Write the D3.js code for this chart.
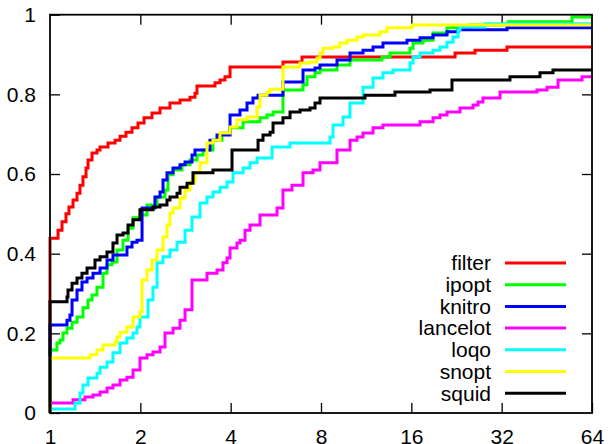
<!DOCTYPE html>
<html>
<head>
<meta charset="utf-8">
<script src="https://cdn.jsdelivr.net/npm/d3@7"></script>
<style>
  body { margin: 0; background: #fff; }
  text { font-family: "Liberation Sans", Arial, Helvetica, sans-serif; }
</style>
</head>
<body>
<div id="chart"></div>
<script>
// performance profile: x = log2 of performance ratio (tau), y = fraction of problems
var xTickVals = [0, 1, 2, 3, 4, 5, 6];
var xTickLabels = ["1", "2", "4", "8", "16", "32", "64"];
var yTickVals = [0, 0.2, 0.4, 0.6, 0.8, 1];
var yTickLabels = ["0", "0.2", "0.4", "0.6", "0.8", "1"];

var solverNames = ["filter", "ipopt", "knitro", "lancelot", "loqo", "snopt", "squid"];
var solverColors = ["#ff0000", "#00ff00", "#0000ff", "#ff00ff", "#00ffff", "#ffff00", "#000000"];

var filter = [[0,0],[0,0.439],[0.089,0.459],[0.133,0.480],[0.177,0.500],[0.210,0.517],[0.255,0.535],
  [0.299,0.552],[0.332,0.572],[0.365,0.593],[0.399,0.615],[0.421,0.635],[0.465,0.653],[0.520,0.660],
  [0.554,0.668],[0.642,0.678],[0.720,0.685],[0.775,0.695],[0.841,0.705],[0.908,0.716],[0.974,0.728],
  [1.041,0.741],[1.129,0.753],[1.218,0.766],[1.328,0.778],[1.439,0.786],[1.550,0.793],[1.605,0.803],
  [1.627,0.821],[1.827,0.829],[1.882,0.836],[1.937,0.844],[1.993,0.869],[2.579,0.881],[2.790,0.894],
  [4.484,0.904],[4.705,0.911],[5.059,0.919]];

var ipopt = [[0,0],[0,0.158],[0.077,0.176],[0.111,0.183],[0.144,0.201],[0.188,0.213],[0.244,0.228],
  [0.299,0.241],[0.365,0.264],[0.421,0.284],[0.465,0.296],[0.520,0.316],[0.587,0.351],[0.631,0.372],
  [0.686,0.379],[0.742,0.409],[0.808,0.434],[0.864,0.464],[0.919,0.490],[0.996,0.497],[1.074,0.522],
  [1.185,0.542],[1.273,0.560],[1.306,0.598],[1.362,0.610],[1.461,0.623],[1.550,0.635],[1.627,0.648],
  [1.694,0.660],[1.804,0.685],[1.904,0.703],[1.993,0.716],[2.137,0.731],[2.325,0.741],[2.402,0.748],
  [2.469,0.756],[2.579,0.811],[2.801,0.824],[2.845,0.844],[2.934,0.854],[2.989,0.861],[3.177,0.874],
  [3.321,0.886],[3.675,0.894],[3.764,0.904],[3.985,0.916],[4.019,0.929],[4.129,0.936],[4.240,0.954],
  [4.395,0.967],[4.650,0.974],[5.070,0.982],[5.779,0.994]];

var knitro = [[0,0],[0,0.221],[0.188,0.233],[0.221,0.246],[0.244,0.284],[0.299,0.309],[0.354,0.329],
  [0.410,0.339],[0.476,0.351],[0.554,0.364],[0.631,0.384],[0.697,0.397],[0.852,0.417],[0.908,0.429],
  [0.963,0.434],[1.019,0.515],[1.162,0.542],[1.218,0.555],[1.251,0.585],[1.295,0.603],[1.362,0.615],
  [1.439,0.623],[1.495,0.630],[1.572,0.648],[1.605,0.660],[1.771,0.685],[1.849,0.698],[1.993,0.748],
  [2.103,0.761],[2.181,0.778],[2.247,0.791],[2.303,0.798],[2.579,0.831],[2.801,0.861],[2.934,0.866],
  [2.989,0.874],[3.177,0.886],[3.321,0.904],[3.465,0.911],[3.576,0.919],[3.686,0.929],[3.952,0.936],
  [4.096,0.942],[4.240,0.949],[4.395,0.957],[4.517,0.962],[5.059,0.967]];

var lancelot = [[0,0],[0,0.025],[0.255,0.033],[0.387,0.040],[0.476,0.045],[0.554,0.053],[0.631,0.063],
  [0.697,0.070],[0.775,0.083],[0.852,0.090],[0.919,0.108],[0.996,0.138],[1.074,0.146],[1.140,0.153],
  [1.218,0.166],[1.273,0.201],[1.362,0.213],[1.439,0.233],[1.495,0.259],[1.572,0.334],[1.738,0.351],
  [1.849,0.359],[1.915,0.377],[1.960,0.389],[1.993,0.414],[2.070,0.427],[2.103,0.434],[2.159,0.459],
  [2.214,0.472],[2.325,0.497],[2.513,0.515],[2.579,0.560],[2.679,0.572],[2.801,0.603],[2.912,0.610],
  [2.989,0.628],[3.177,0.660],[3.321,0.685],[3.399,0.693],[3.465,0.703],[3.576,0.716],[3.686,0.723],
  [4.096,0.731],[4.240,0.741],[4.317,0.748],[4.395,0.756],[4.539,0.766],[4.683,0.773],[4.738,0.781],
  [4.793,0.791],[4.982,0.806],[5.391,0.811],[5.502,0.818],[5.624,0.836],[5.890,0.844]];

var loqo = [[0,0],[0,0.010],[0.277,0.025],[0.332,0.050],[0.365,0.070],[0.421,0.088],[0.520,0.100],
  [0.554,0.115],[0.631,0.128],[0.697,0.151],[0.775,0.176],[0.852,0.188],[0.919,0.201],[0.963,0.216],
  [0.996,0.241],[1.085,0.284],[1.140,0.316],[1.185,0.377],[1.251,0.392],[1.328,0.409],[1.406,0.429],
  [1.495,0.459],[1.572,0.492],[1.661,0.527],[1.738,0.542],[1.804,0.555],[1.882,0.567],[1.960,0.580],
  [2.026,0.603],[2.137,0.615],[2.214,0.628],[2.292,0.640],[2.458,0.668],[2.657,0.678],[3.100,0.693],
  [3.133,0.723],[3.244,0.743],[3.321,0.778],[3.465,0.818],[3.576,0.841],[3.686,0.854],[3.797,0.861],
  [3.985,0.879],[4.019,0.894],[4.096,0.904],[4.240,0.911],[4.317,0.919],[4.395,0.931],[4.461,0.944],
  [4.517,0.962],[4.539,0.969],[4.816,0.977]];

var snopt = [[0,0],[0,0.138],[0.443,0.146],[0.520,0.158],[0.587,0.171],[0.720,0.178],[0.742,0.191],
  [0.775,0.203],[0.852,0.216],[0.919,0.241],[0.996,0.254],[1.019,0.334],[1.074,0.359],[1.129,0.384],
  [1.185,0.409],[1.251,0.442],[1.295,0.472],[1.328,0.502],[1.362,0.515],[1.439,0.540],[1.495,0.560],
  [1.550,0.580],[1.605,0.603],[1.661,0.628],[1.738,0.678],[1.804,0.685],[1.882,0.703],[1.993,0.718],
  [2.070,0.736],[2.181,0.743],[2.292,0.768],[2.325,0.798],[2.402,0.806],[2.436,0.813],[2.579,0.869],
  [2.768,0.879],[2.878,0.881],[2.956,0.891],[2.989,0.904],[3.022,0.916],[3.133,0.919],[3.210,0.929],
  [3.288,0.936],[3.399,0.944],[3.465,0.949],[3.653,0.957],[3.731,0.967],[4.008,0.974]];

var squid = [[0,0],[0,0.279],[0.188,0.291],[0.199,0.309],[0.244,0.326],[0.299,0.339],[0.354,0.351],
  [0.410,0.364],[0.498,0.384],[0.554,0.392],[0.631,0.404],[0.697,0.427],[0.742,0.447],[0.808,0.452],
  [0.864,0.472],[0.919,0.485],[0.996,0.510],[1.140,0.517],[1.218,0.522],[1.295,0.535],[1.328,0.542],
  [1.406,0.552],[1.439,0.567],[1.517,0.577],[1.583,0.603],[1.804,0.610],[2.015,0.660],[2.303,0.685],
  [2.358,0.698],[2.436,0.705],[2.469,0.728],[2.579,0.741],[2.657,0.756],[2.768,0.761],[2.878,0.766],
  [2.934,0.778],[2.989,0.791],[3.487,0.798],[3.819,0.806],[4.207,0.811],[4.450,0.836],[5.092,0.844],
  [5.424,0.854],[5.568,0.861]];

var allSeries = [filter, ipopt, knitro, lancelot, loqo, snopt, squid];

var width = 608, height = 444;
var margin = {top: 14.7, right: 16, bottom: 31, left: 50};
var innerW = width - margin.left - margin.right;
var innerH = height - margin.top - margin.bottom;

var svg = d3.select("#chart").append("svg")
  .attr("width", width)
  .attr("height", height);

var g = svg.append("g")
  .attr("transform", "translate(" + margin.left + "," + margin.top + ")");

var x = d3.scaleLinear().domain([0, 6]).range([0, innerW]);
var y = d3.scaleLinear().domain([0, 1]).range([innerH, 0]);

// axes, ticks pointing inwards on all four sides
var xAxis = g.append("g")
  .attr("transform", "translate(0," + innerH + ")")
  .call(d3.axisBottom(x).tickValues(xTickVals)
    .tickFormat(function(d, i) { return xTickLabels[i]; })
    .tickSizeInner(-10).tickSizeOuter(0).tickPadding(16));

var yAxis = g.append("g")
  .call(d3.axisLeft(y).tickValues(yTickVals)
    .tickFormat(function(d, i) { return yTickLabels[i]; })
    .tickSizeInner(-10).tickSizeOuter(0).tickPadding(14));

g.append("g")
  .call(d3.axisTop(x).tickValues(xTickVals.slice(1, -1)).tickFormat("")
    .tickSizeInner(-10).tickSizeOuter(0));

g.append("g")
  .attr("transform", "translate(" + innerW + ",0)")
  .call(d3.axisRight(y).tickValues(yTickVals.slice(1, -1)).tickFormat("")
    .tickSizeInner(-10).tickSizeOuter(0));

g.selectAll(".domain").remove();
g.selectAll(".tick line").attr("stroke", "#000").attr("stroke-width", 1.3);
g.selectAll(".tick text").attr("font-size", 21).attr("fill", "#000");

// curves
var line = d3.line()
  .x(function(d) { return x(d[0]); })
  .y(function(d) { return y(d[1]); })
  .curve(d3.curveStepAfter);

allSeries.forEach(function(s, i) {
  var pts = s.concat([[6, s[s.length - 1][1]]]);
  g.append("path")
    .datum(pts)
    .attr("fill", "none")
    .attr("stroke", solverColors[i])
    .attr("stroke-width", 3)
    .attr("d", line);
});

// frame
g.append("rect")
  .attr("width", innerW)
  .attr("height", innerH)
  .attr("fill", "none")
  .attr("stroke", "#000")
  .attr("stroke-width", 1.8);

// legend
var legend = svg.append("g");
solverNames.forEach(function(name, i) {
  var ly = 263 + i * 21.7;
  legend.append("text")
    .attr("x", 491)
    .attr("y", ly)
    .attr("dy", "0.35em")
    .attr("text-anchor", "end")
    .attr("font-size", 21)
    .text(name);
  legend.append("line")
    .attr("x1", 505).attr("x2", 566)
    .attr("y1", ly).attr("y2", ly)
    .attr("stroke", solverColors[i])
    .attr("stroke-width", 3);
});
</script>
</body>
</html>
